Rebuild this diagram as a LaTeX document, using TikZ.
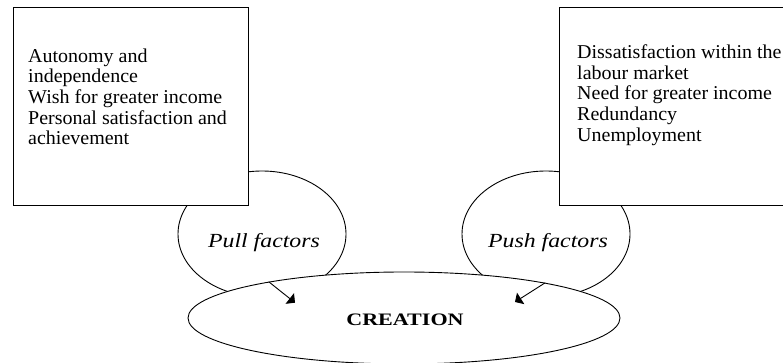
\documentclass[tikz,border=0pt]{standalone}
\usepackage{fontspec}
\setmainfont{Liberation Serif}[FakeStretch=1.02]
\newfontfamily\factorfont{Liberation Serif}[FakeStretch=1.19]
\newfontfamily\titlefont{Liberation Serif}[FakeStretch=1.26]
\usetikzlibrary{shapes.geometric,arrows.meta}

\tikzset{
  thinline/.style={line width=0.9pt, black},
  factorbox/.style={thinline, draw, fill=white, rectangle, inner sep=0pt,
    minimum width=235pt, minimum height=198pt},
  itemtext/.style={anchor=north west, align=left, inner sep=0pt,
    font=\fontsize{19.6}{20.7}\selectfont},
  loopcurve/.style={thinline, draw, ellipse, inner sep=0pt,
    minimum width=168pt, minimum height=126pt},
  factorlabel/.style={anchor=base, inner sep=0pt,
    font=\factorfont\itshape\fontsize{20}{22}\selectfont},
  outcome/.style={thinline, draw, fill=white, ellipse, inner sep=0pt,
    minimum width=432pt, minimum height=92pt},
  outcomelabel/.style={anchor=base, inner sep=0pt,
    font=\titlefont\bfseries\fontsize{17.5}{20}\selectfont},
  factorarrow/.style={thinline, -{Triangle[angle=90:9.5pt]}},
}

\begin{document}
\begin{tikzpicture}[x=1pt,y=1pt]
  \useasboundingbox (0,0) rectangle (783,363);
  \clip (0,0) rectangle (783,363);

  % circular paths linking each box to the outcome
  \node[loopcurve] (pullloop) at (262,129) {};
  \node[loopcurve] (pushloop) at (546,129) {};

  % the two lists of factors
  \node[factorbox] (pullbox) at (130.5,257) {};
  \node[factorbox] (pushbox) at (676.5,257) {};
  \node[itemtext] (pulltext) at (28,314.7)
    {Autonomy and\\independence\\Wish for greater income\\Personal satisfaction and\\achievement};
  \node[itemtext] (pushtext) at (577,318.4)
    {Dissatisfaction within the\\labour market\\Need for greater income\\Redundancy\\Unemployment};

  % labels on the loops
  \node[factorlabel] (pulllabel) at (264,115) {Pull factors};
  \node[factorlabel] (pushlabel) at (548,115.3) {Push factors};

  % the outcome
  \node[outcome] (creation) at (404,45) {};
  \node[outcomelabel] (creationlabel) at (405,37.5) {CREATION};

  % arrows into the outcome
  \coordinate (pulltip) at (295,60.3);
  \coordinate (pushtip) at (515,61);
  \draw[factorarrow] (creation.165.4) -- (pulltip);
  \draw[factorarrow] (creation.14.6) -- (pushtip);
\end{tikzpicture}
\end{document}
